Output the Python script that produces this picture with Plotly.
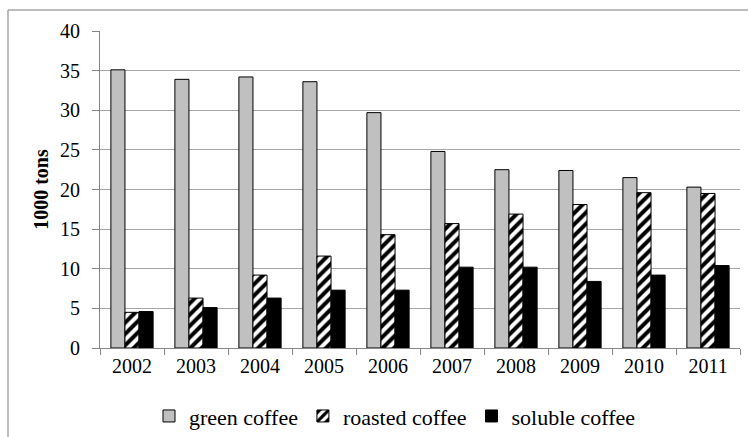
import plotly.graph_objects as go

years = ["2002", "2003", "2004", "2005", "2006", "2007", "2008", "2009", "2010", "2011"]
green_coffee = [35.1, 33.9, 34.2, 33.6, 29.7, 24.8, 22.5, 22.4, 21.5, 20.3]
roasted_coffee = [4.5, 6.3, 9.2, 11.6, 14.3, 15.7, 16.9, 18.1, 19.6, 19.5]
soluble_coffee = [4.6, 5.1, 6.3, 7.3, 7.3, 10.2, 10.2, 8.4, 9.2, 10.4]
y_ticks = [0, 5, 10, 15, 20, 25, 30, 35, 40]

FONT = "Liberation Serif, Times New Roman, serif"

fig = go.Figure()
fig.add_trace(go.Bar(
    x=years, y=green_coffee, name="green coffee",
    marker=dict(color="#c0c0c0", line=dict(color="#000000", width=1)),
))
fig.add_trace(go.Bar(
    x=years, y=roasted_coffee, name="roasted coffee",
    marker=dict(color="#ffffff", line=dict(color="#000000", width=1),
                pattern=dict(shape="/", fgcolor="#000000", bgcolor="#ffffff",
                             size=8, solidity=0.5, fillmode="replace")),
))
fig.add_trace(go.Bar(
    x=years, y=soluble_coffee, name="soluble coffee",
    marker=dict(color="#000000", line=dict(color="#000000", width=1)),
))

fig.update_layout(
    width=748, height=437,
    margin=dict(l=100, r=8, t=31, b=89, autoexpand=False),
    paper_bgcolor="#ffffff", plot_bgcolor="#ffffff",
    barmode="group", bargap=0.34, bargroupgap=0,
    font=dict(family=FONT, size=20, color="#000000"),
    showlegend=True,
    legend=dict(orientation="h", x=(149 - 100) / 640, xanchor="left", y=-0.215, yanchor="middle",
                font=dict(family=FONT, size=22), itemwidth=30, traceorder="normal",
                itemclick=False, bgcolor="rgba(0,0,0,0)", borderwidth=0),
    xaxis=dict(
        type="category", showline=True, linecolor="#868686", linewidth=1,
        ticks="outside", ticklen=6, tickcolor="#868686", tickson="boundaries",
        showgrid=False, tickfont=dict(family=FONT, size=20),
    ),
    yaxis=dict(
        range=[0, 40], tickvals=y_ticks, showline=True, linecolor="#868686", linewidth=1,
        ticks="outside", ticklen=7, tickcolor="#868686", ticklabelstandoff=8,
        showgrid=True, gridcolor="#a6a6a6", gridwidth=1.3, zeroline=False,
        tickfont=dict(family=FONT, size=20),
        title=dict(text="<b>1000 tons</b>", font=dict(family=FONT, size=20), standoff=6),
    ),
    shapes=[
        dict(type="line", xref="paper", yref="paper",
             x0=-0.14375, x1=1.02, y0=1.066, y1=1.066,
             line=dict(color="#a6a6a6", width=1.5)),
        dict(type="line", xref="paper", yref="paper",
             x0=-0.14375, x1=-0.14375, y0=1.066, y1=-0.3,
             line=dict(color="#a6a6a6", width=1.5)),
    ],
)

fig.write_html("out.html", config={"displayModeBar": False},
               post_script="document.body.style.margin='0';document.body.style.padding='0';")
